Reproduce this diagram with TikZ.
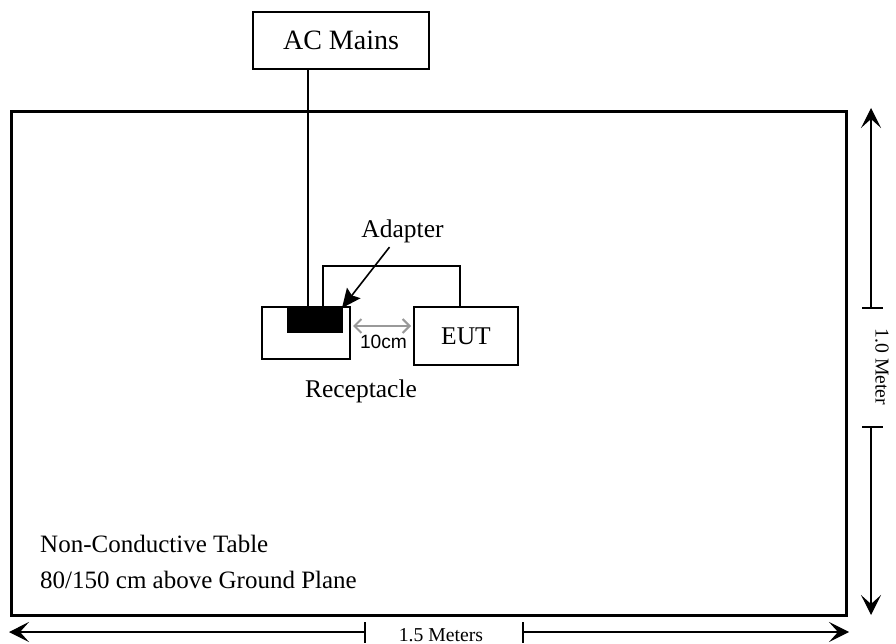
\documentclass[tikz,border=0pt]{standalone}
\usepackage{fontspec}
\setmainfont{Liberation Serif}
\newfontfamily\arialfont{Liberation Sans}
\usetikzlibrary{arrows.meta}
\begin{document}
\begin{tikzpicture}[x=1pt,y=-1pt,
  box/.style={draw, line width=2pt, inner sep=0pt, fill=white},
  cable/.style={draw, line width=2pt},
  dimline/.style={draw, line width=1.2pt},
  dimtip/.style={dimline, -{Stealth[length=20pt,width=20pt,inset=9pt]}},
  pointer/.style={draw, line width=1.6pt, -{Stealth[length=19pt,width=17pt,inset=3pt]}},
  grayarrow/.style={draw, line width=2pt, color=black!40, {Straight Barb[length=7pt,width=14pt]}-{Straight Barb[length=7pt,width=14pt]}},
  lbl/.style={inner sep=0pt, font=\fontsize{25.5}{30}\selectfont},
  small/.style={inner sep=0pt, font=\fontsize{19.7}{24}\selectfont}
]
\useasboundingbox (0,0) rectangle (896,644);

% table
\node[draw, line width=3pt, inner sep=0pt, minimum width=835pt, minimum height=503pt] (table) at (428.5,363.5) {};

% AC mains
\node[box, minimum width=176pt, minimum height=57pt, font=\fontsize{28}{32}\selectfont] (ac) at (341,40.5) {AC Mains};

% receptacle, adapter, EUT
\node[box, minimum width=88pt, minimum height=52pt] (rec) at (306,333) {};
\node[draw, fill=black, line width=0pt, inner sep=0pt, minimum width=55pt, minimum height=24pt] (adapter) at (314.5,320) {};
\node[box, minimum width=104pt, minimum height=58pt, lbl] (eut) at (466,336) {EUT};

% mains cable and EUT cable
\draw[cable] ([xshift=-33.5pt]ac.south) -- ([xshift=-7pt]adapter.north);
\draw[cable] ([xshift=8.5pt]adapter.north) -- ++(0,-42) -| ([xshift=-6pt]eut.north);

% labels
\node[lbl, anchor=base] (adlab) at (402.5,237) {Adapter};
\draw[pointer] ([xshift=-13pt,yshift=-4.5pt]adlab.south) -- (adapter.north east);
\node[lbl, anchor=base] (reclab) at (361,397) {Receptacle};

% 10 cm spacing
\coordinate (gy) at (0,326);
\draw[grayarrow, shorten <=2pt, shorten >=2pt] (rec.east |- gy) -- (eut.west |- gy);
\node[inner sep=0pt, anchor=base, font=\arialfont\fontsize{19.2}{22}\selectfont] (cm) at (383.5,348) {10cm};

% table text
\node[inner sep=0pt, anchor=base west, font=\fontsize{25}{30}\selectfont] (t1) at (40,552) {Non-Conductive Table};
\node[inner sep=0pt, anchor=base west, font=\fontsize{25}{30}\selectfont] (t2) at (40,588) {80/150 cm above Ground Plane};

% vertical dimension
\coordinate (vt) at (871,108);
\coordinate (vt1) at (871,308);
\coordinate (vb1) at (871,427);
\coordinate (vb) at (871,615);
\node[small, rotate=-90] (vlab) at (882,367) {1.0 Meter};
\draw[dimtip] (vt1) -- (vt);
\draw[dimtip] (vb1) -- (vb);
\draw[dimline] ([xshift=-9pt]vt1) -- ([xshift=12pt]vt1);
\draw[dimline] ([xshift=-9pt]vb1) -- ([xshift=12pt]vb1);

% horizontal dimension
\coordinate (hl) at (9,632);
\coordinate (hl1) at (365,632);
\coordinate (hr1) at (523,632);
\coordinate (hr) at (849,632);
\node[small, anchor=base] (hlab) at (441,641) {1.5 Meters};
\draw[dimtip] (hl1) -- (hl);
\draw[dimtip] (hr1) -- (hr);
\draw[dimline] ([yshift=10pt]hl1) -- ([yshift=-11pt]hl1);
\draw[dimline] ([yshift=10pt]hr1) -- ([yshift=-11pt]hr1);
\end{tikzpicture}
\end{document}
